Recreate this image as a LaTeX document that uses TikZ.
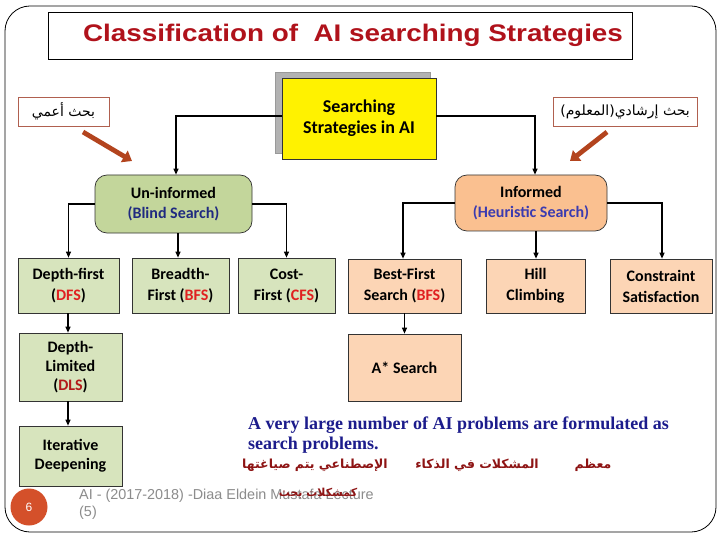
\documentclass[tikz,border=0pt]{standalone}
\usepackage{fontspec}
\setmainfont{Carlito}
\newfontfamily\titlefont{Liberation Sans}
\newfontfamily\titlewide[FakeStretch=1.16]{Liberation Sans}
\newfontfamily\serifb{Liberation Serif}
\newfontfamily\arabicfont[Script=Arabic]{DejaVu Sans}
\TeXXeTstate=1
\usetikzlibrary{arrows.meta}
\definecolor{titlered}{HTML}{B0121B}
\definecolor{gA}{HTML}{C3D69B}
\definecolor{gB}{HTML}{D7E4BD}
\definecolor{oA}{HTML}{FAC090}
\definecolor{oB}{HTML}{FCD5B5}
\definecolor{acr}{HTML}{E02020}
\definecolor{navy}{HTML}{1F2A80}
\definecolor{violetblue}{HTML}{3B3BB0}
\definecolor{brownarrow}{HTML}{B3441E}
\definecolor{lblborder}{HTML}{B0604F}
\definecolor{textnavy}{HTML}{1C1C8C}
\definecolor{arred}{HTML}{8E1414}
\definecolor{footgray}{HTML}{8C8C8C}
\definecolor{circ}{HTML}{D4502A}
\tikzset{
  box/.style={draw=black!80, line width=0.7pt, inner sep=0pt, align=center,
    font=\bfseries\fontsize{16}{21}\selectfont},
  gbox/.style={box, fill=gB},
  obox/.style={box, fill=oB},
  lbl/.style={draw=lblborder, line width=0.7pt, fill=white, inner sep=0pt,
    font=\arabicfont\fontsize{14}{16}\selectfont},
  conn/.style={line width=1.1pt, -{Triangle[length=6pt,width=5pt]}},
  bigarrow/.style={draw=brownarrow, line width=4.8pt, -{Triangle[length=9pt,width=13pt]}},
  arab/.style={inner sep=0pt, text=arred, font=\arabicfont\bfseries\fontsize{12.5}{14}\selectfont},
  para/.style={anchor=base west, inner sep=0pt, text=textnavy, font=\serifb\bfseries\fontsize{18}{20}\selectfont},
  foot/.style={anchor=west, inner sep=0pt, text=footgray, font=\titlefont\fontsize{14.4}{16}\selectfont},
}
\begin{document}
\begin{tikzpicture}[x=1pt,y=-1pt]
\useasboundingbox (0,0) rectangle (720,540);
\fill[white] (0,0) rectangle (720,540);
% outer frame
\draw[line width=0.8pt, rounded corners=25pt] (5,6) rectangle (716,532);
% title
\node[draw=black, line width=0.7pt, minimum width=584pt, minimum height=47pt, inner sep=0pt] (titlebox) at (340,35.5) {};
\node[inner sep=0pt, text=titlered, font=\titlewide\bfseries\fontsize{24}{28}\selectfont] (title) at (353,35.5)
  {Classification of\ \ AI searching Strategies};
% arabic labels
\node[lbl, minimum width=91pt, minimum height=29pt] (lblL) at (63.5,111.5) {\beginR بحث أعمي\endR};
\node[lbl, minimum width=144pt, minimum height=29pt] (lblR) at (625,111.5) {\beginR بحث إرشادي(المعلوم)\endR};
% root with shadow
\node[draw=black!40, fill=black!30, minimum width=155pt, minimum height=81pt, inner sep=0pt] (shadow) at (352.5,112.5) {};
\node[box, fill=yellow, minimum width=154pt, minimum height=81pt, font=\bfseries\fontsize{18}{21}\selectfont] (root) at (359,118.5) {Searching\\Strategies in AI};
% level 1
\node[box, fill=gA, rounded corners=12pt, minimum width=157pt, minimum height=58pt, font=\bfseries\fontsize{16}{20}\selectfont] (uninf) at (173.5,204)
  {Un-informed\\\textcolor{navy}{(Blind Search)}};
\node[box, fill=oA, rounded corners=12pt, minimum width=152pt, minimum height=56pt, font=\bfseries\fontsize{16}{20}\selectfont] (inf) at (531,203)
  {Informed\\\textcolor{violetblue}{(Heuristic Search)}};
% level 2
\node[gbox, minimum width=101pt, minimum height=55pt] (df) at (68.5,285.5) {Depth-first\\(\textcolor{acr}{DFS})};
\node[gbox, minimum width=97pt, minimum height=55pt] (bf) at (180.5,285.5) {Breadth-\\First (\textcolor{acr}{BFS})};
\node[gbox, minimum width=97pt, minimum height=55pt] (cf) at (286.5,285.5) {Cost-\\First (\textcolor{acr}{CFS})};
\node[obox, minimum width=113pt, minimum height=54pt] (best) at (404.5,286) {Best-First\\Search (\textcolor{acr}{BFS})};
\node[obox, minimum width=99pt, minimum height=54pt] (hill) at (535.5,286) {Hill\\Climbing};
\node[obox, minimum width=102pt, minimum height=54pt] (cons) at (661,286) {Constraint\\Satisfaction};
% level 3
\node[gbox, minimum width=103pt, minimum height=68pt, font=\bfseries\fontsize{16}{19}\selectfont] (dl) at (70.5,367) {Depth-\\Limited\\(\textcolor{acr!80!black}{DLS})};
\node[gbox, minimum width=103pt, minimum height=60pt, font=\bfseries\fontsize{16}{19}\selectfont] (id) at (70.5,456) {Iterative\\Deepening};
\node[obox, minimum width=113pt, minimum height=67pt] (astar) at (404.5,367.5) {A* Search};
% connectors
\draw[conn] ([yshift=2.5pt]root.west) -| ([xshift=2.5pt]uninf.north);
\draw[conn] ([yshift=2.5pt]root.east) -| ([xshift=4pt]inf.north);
\draw[conn] (uninf.west) -| (df.north);
\draw[conn] ([xshift=4.5pt]uninf.south) -- ([xshift=-2.5pt]bf.north);
\draw[conn] (uninf.east) -| (cf.north);
\draw[conn] (inf.west) -| ([xshift=-1.5pt]best.north);
\draw[conn] ([xshift=5pt]inf.south) -- ([xshift=0.5pt]hill.north);
\draw[conn] (inf.east) -| ([xshift=1pt]cons.north);
\draw[conn] ([xshift=-0.5pt]df.south) -- ([xshift=-2.5pt]dl.north);
\draw[conn] ([xshift=-2.5pt]dl.south) -- ([xshift=-2.5pt]id.north);
\draw[conn] (best.south) -- (astar.north);
% brown arrows
\coordinate (aL1) at (83,132); \coordinate (aL2) at (132,161);
\coordinate (aR1) at (607,132); \coordinate (aR2) at (570,161);
\draw[bigarrow] (aL1) -- (aL2);
\draw[bigarrow] (aR1) -- (aR2);
% paragraph
\node[para] (p1) at (248,429) {A very large number of AI problems are formulated as};
\node[para] (p2) at (248,449) {search problems.};
\node[arab] (ar1) at (593,465) {\beginR معظم\endR};
\node[arab] (ar2) at (477,465) {\beginR المشكلات في الذكاء\endR};
\node[arab] (ar3) at (315,465) {\beginR الإصطناعي يتم صياغتها\endR};
% footer
\node[circle, fill=circ, minimum size=37pt, inner sep=0pt, text=white, font=\titlefont\fontsize{12}{14}\selectfont] (pg) at (29,507) {6};
\node[foot] (f1) at (79,496) {AI - (2017-2018) -Diaa Eldein Mustafa Lecture};
\node[foot] (f2) at (79,513) {(5)};
\node[arab, font=\arabicfont\bfseries\fontsize{11}{13}\selectfont] (ar4) at (318,493) {\beginR كمشكلات بحث\endR};
\end{tikzpicture}
\end{document}
